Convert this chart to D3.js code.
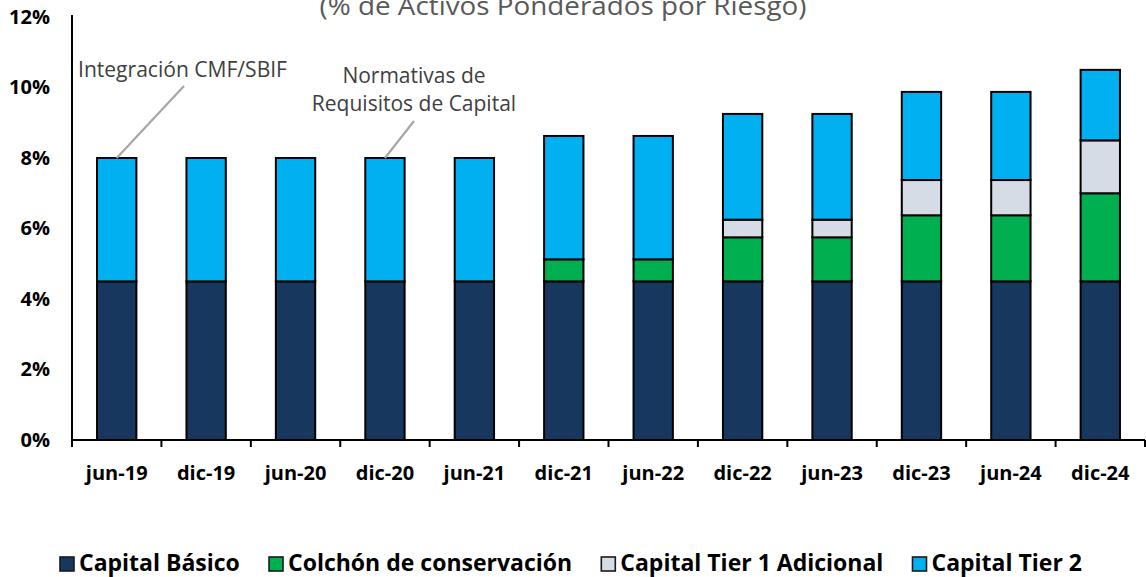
<!DOCTYPE html>
<html><head><meta charset="utf-8">
<script src="https://cdn.jsdelivr.net/npm/d3@7"></script>
<style>body{margin:0;background:#fff}svg{display:block}</style>
</head><body>
<svg id="c" width="1146" height="577"></svg>
<script>
const categories = ["jun-19","dic-19","jun-20","dic-20","jun-21","dic-21","jun-22","dic-22","jun-23","dic-23","jun-24","dic-24"];
const capitalBasico = [4.5,4.5,4.5,4.5,4.5,4.5,4.5,4.5,4.5,4.5,4.5,4.5];
const colchon = [0,0,0,0,0,0.625,0.625,1.25,1.25,1.875,1.875,2.5];
const tier1Adicional = [0,0,0,0,0,0,0,0.5,0.5,1.0,1.0,1.5];
const tier2 = [3.5,3.5,3.5,3.5,3.5,3.5,3.5,3.0,3.0,2.5,2.5,2.0];
const seriesNames = ["Capital Básico","Colchón de conservación","Capital Tier 1 Adicional","Capital Tier 2"];
const seriesColors = ["#17375E","#00B050","#D6DCE5","#00B0F0"];
const yTicks = [0,2,4,6,8,10,12];
const title = "(% de Activos Ponderados por Riesgo)";

const svg = d3.select("#c");
const FONT = "'Open Sans', sans-serif";
const x = d3.scaleBand().domain(categories).range([72,1145]).paddingInner(0.56).paddingOuter(0.28);
const y = d3.scaleLinear().domain([0,12]).range([440,17]);

const table = categories.map((c,i)=>({cat:c, s0:capitalBasico[i], s1:colchon[i], s2:tier1Adicional[i], s3:tier2[i]}));
const stack = d3.stack().keys(["s0","s1","s2","s3"])(table);

// title (top cut off as in the reference)
svg.append("text").attr("x",563).attr("y",15).attr("text-anchor","middle")
  .attr("font-family",FONT).attr("font-size",26).attr("fill","#595959")
  .attr("textLength",487).attr("lengthAdjust","spacingAndGlyphs").text(title);

// bars
stack.forEach((layer,k)=>{
  svg.append("g").selectAll("rect").data(layer.filter(d=>d[1]-d[0]>0)).join("rect")
    .attr("x",d=>x(d.data.cat)).attr("width",x.bandwidth())
    .attr("y",d=>y(d[1])).attr("height",d=>y(d[0])-y(d[1]))
    .attr("fill",seriesColors[k]).attr("stroke","#000").attr("stroke-width",2);
});

// y axis
const yAxis = d3.axisLeft(y).tickValues(yTicks).tickSize(0).tickPadding(0).tickFormat(d=>d+"%");
const gy = svg.append("g").attr("transform","translate(72,0)").call(yAxis);
gy.select(".domain").remove();
gy.selectAll("text").attr("x",-22).attr("font-family",FONT).attr("font-weight","bold").attr("font-size",20).attr("fill","#000");
svg.append("line").attr("x1",72).attr("x2",72).attr("y1",15).attr("y2",447).attr("stroke","#000").attr("stroke-width",2);

// x axis
const gx = svg.append("g").attr("transform","translate(0,440)").call(d3.axisBottom(x).tickSize(0).tickPadding(26));
gx.select(".domain").attr("stroke","#000").attr("stroke-width",2).attr("d","M72,0H1145");
gx.selectAll("text").attr("font-family",FONT).attr("font-weight","bold").attr("font-size",20).attr("fill","#000");
svg.append("g").selectAll("line").data(d3.range(1,categories.length+1)).join("line")
  .attr("x1",i=>72+i*x.step()).attr("x2",i=>72+i*x.step()).attr("y1",440).attr("y2",447)
  .attr("stroke","#000").attr("stroke-width",2);

// annotations
const ann = svg.append("g").attr("font-family",FONT).attr("font-size",21).attr("fill","#404040");
ann.append("text").attr("x",78).attr("y",77).attr("textLength",209).attr("lengthAdjust","spacingAndGlyphs").text("Integración CMF/SBIF");
ann.append("text").attr("x",414).attr("y",83).attr("text-anchor","middle").text("Normativas de");
ann.append("text").attr("x",414).attr("y",111).attr("text-anchor","middle").text("Requisitos de Capital");
svg.append("line").attr("x1",184).attr("y1",86).attr("x2",x("jun-19")+x.bandwidth()/2).attr("y2",y(8)).attr("stroke","#A6A6A6").attr("stroke-width",2.2);
svg.append("line").attr("x1",414).attr("y1",121).attr("x2",x("dic-20")+x.bandwidth()/2).attr("y2",y(8)).attr("stroke","#A6A6A6").attr("stroke-width",2.2);

// legend
const lg = svg.append("g");
const items = seriesNames.map((n,i)=>{
  const g = lg.append("g");
  g.append("rect").attr("x",0).attr("y",0).attr("width",14).attr("height",14).attr("fill",seriesColors[i]).attr("stroke","#1a1a1a").attr("stroke-width",1.6);
  const t = g.append("text").attr("x",19).attr("y",13.5).attr("font-family",FONT).attr("font-weight","bold").attr("font-size",23).attr("fill","#000").text(n);
  return {g, w: 19 + t.node().getComputedTextLength()};
});
const total = 1082-60;
const gap = (total - d3.sum(items,d=>d.w))/(items.length-1);
let cx = 60;
items.forEach(it=>{ it.g.attr("transform",`translate(${cx},557)`); cx += it.w + gap; });
</script>
</body></html>
